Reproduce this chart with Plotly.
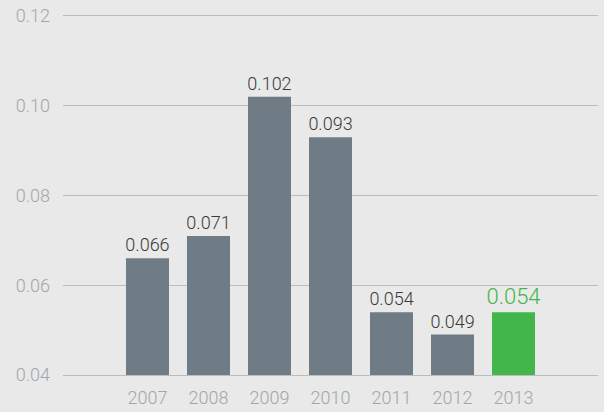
import plotly.graph_objects as go

years = ["2007", "2008", "2009", "2010", "2011", "2012", "2013"]
values = [0.066, 0.071, 0.102, 0.093, 0.054, 0.049, 0.054]
labels = ["0.066", "0.071", "0.102", "0.093", "0.054", "0.049", "0.054"]
y_ticks = [0.04, 0.06, 0.08, 0.10, 0.12]
y_tick_labels = ["0.04", "0.06", "0.08", "0.10", "0.12"]

gray = "#6f7c85"
green = "#42b64a"
grid = "#b9bdc0"
colors = [gray] * 6 + [green]
text_colors = ["#3a3a3a"] * 6 + [green]
text_sizes = [18] * 6 + [22]

fig = go.Figure(go.Bar(
    x=years, y=values, base=0,
    marker=dict(color=colors, line=dict(width=0)),
    text=labels, textposition="outside", cliponaxis=False, constraintext="none",
    textfont=dict(color=text_colors, size=text_sizes, family="Roboto", weight=300),
    width=0.705,
))

fig.update_layout(
    width=604, height=412,
    margin=dict(l=63, r=6, t=16, b=37),
    paper_bgcolor="#e8e9e8", plot_bgcolor="#e8e9e8",
    showlegend=False,
    font=dict(family="Roboto", weight=300),
)
fig.update_xaxes(
    range=[-1.385, 7.385], showgrid=False, zeroline=False, automargin=False,
    showline=True, mirror=True, linecolor=grid, linewidth=1,
    ticks="", tickfont=dict(size=18, color="#a3a7aa", family="Roboto", weight=300),
    ticklabelstandoff=6,
)
fig.update_yaxes(
    range=[0.04, 0.12], tickvals=y_ticks, ticktext=y_tick_labels, automargin=False,
    showgrid=True, gridcolor=grid, gridwidth=1, zeroline=False, showline=False,
    ticks="", tickfont=dict(size=18, color="#a3a7aa", family="Roboto", weight=300),
    ticklabelstandoff=12,
)

fig.write_html(
    "out.html",
    config={"displayModeBar": False},
    post_script="document.body.style.margin='0';document.body.style.padding='0';",
)
